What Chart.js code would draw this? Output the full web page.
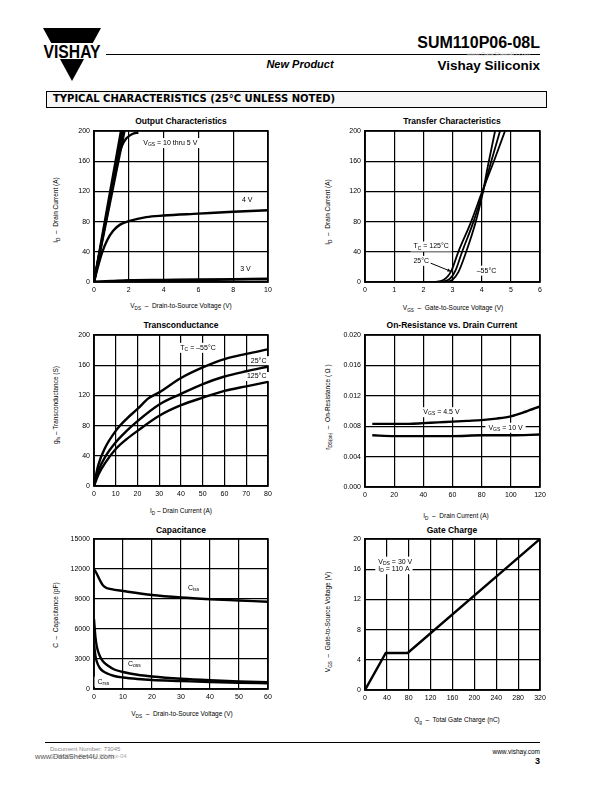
<!DOCTYPE html>
<html>
<head>
<meta charset="utf-8">
<script src="https://cdn.jsdelivr.net/npm/chart.js@4/dist/chart.umd.min.js"></script>
<style>
  body { margin: 0; background: #fff; }
  #page { position: relative; width: 612px; height: 792px; overflow: hidden; font-family: "Liberation Sans", Arial, sans-serif; color: #000; }
  .abs { position: absolute; white-space: nowrap; }
  canvas { position: absolute; }
  .ttl { position: absolute; white-space: nowrap; font: bold 8.5px "Liberation Sans Narrow", "Liberation Sans", sans-serif; transform: translate(-50%, -50%); }
  .xt { position: absolute; white-space: nowrap; font-size: 6.5px; transform: translate(-50%, -50%); }
  .yt { position: absolute; white-space: nowrap; font-size: 6.5px; transform: translate(-50%, -50%) rotate(-90deg); }
  sub { font-size: 72%; vertical-align: baseline; position: relative; top: 0.35em; line-height: 0; }
</style>
</head>
<body>
<div id="page">
  <svg class="abs" style="left:43px;top:28px" width="58" height="54">
    <polygon points="0,0 58,0 29,53" fill="#000"/>
    <rect x="0" y="15" width="58" height="16" fill="#fff"/>
    <text x="29" y="29.5" text-anchor="middle" font-family="Liberation Sans, Arial" font-weight="bold" font-size="18" textLength="57" lengthAdjust="spacingAndGlyphs">VISHAY</text>
  </svg>
  <div class="abs" style="right:72px;top:34px;font:bold 16px 'Liberation Sans Narrow','Liberation Sans',sans-serif">SUM110P06-08L</div>
  <div class="abs" style="left:106px;top:54px;width:434px;height:1px;background:#000"></div>
  <div class="abs" style="left:300px;top:64px;transform:translate(-50%,-50%);font:italic bold 11px 'Liberation Sans',sans-serif">New Product</div>
  <div class="abs" style="right:82px;top:51px;font-size:6px;color:#d8d8d8">www.DataSheet4U.com</div>
  <div class="abs" style="right:72px;top:58px;font:bold 13.5px 'Liberation Sans Narrow','Liberation Sans',sans-serif">Vishay Siliconix</div>
  <div class="abs" style="left:46px;top:91px;width:499px;height:15px;border:1px solid #000;background:#f6f6f6"></div>
  <div class="abs" style="left:53px;top:92.5px;font:bold 10px 'DejaVu Sans',sans-serif">TYPICAL CHARACTERISTICS (25°C UNLESS NOTED)</div>

  <div class="ttl" style="left:181px;top:121px">Output Characteristics</div>
  <div class="ttl" style="left:452px;top:121px">Transfer Characteristics</div>
  <div class="ttl" style="left:181px;top:325px">Transconductance</div>
  <div class="ttl" style="left:452px;top:325px">On-Resistance vs. Drain Current</div>
  <div class="ttl" style="left:181px;top:530px">Capacitance</div>
  <div class="ttl" style="left:452px;top:530px">Gate Charge</div>

  <div class="xt" style="left:181px;top:305px">V<sub>DS</sub> &nbsp;–&nbsp; Drain-to-Source Voltage (V)</div>
  <div class="xt" style="left:453px;top:307px">V<sub>GS</sub> &nbsp;–&nbsp; Gate-to-Source Voltage (V)</div>
  <div class="xt" style="left:181px;top:510px">I<sub>D</sub> – Drain Current (A)</div>
  <div class="xt" style="left:456px;top:515px">I<sub>D</sub> &nbsp;–&nbsp; Drain Current (A)</div>
  <div class="xt" style="left:182px;top:713px">V<sub>DS</sub> &nbsp;–&nbsp; Drain-to-Source Voltage (V)</div>
  <div class="xt" style="left:457px;top:719px">Q<sub>g</sub> &nbsp;–&nbsp; Total Gate Charge (nC)</div>

  <div class="yt" style="left:55px;top:210px">I<sub>D</sub> &nbsp;–&nbsp; Drain Current (A)</div>
  <div class="yt" style="left:327px;top:212px">I<sub>D</sub> &nbsp;–&nbsp; Drain Current (A)</div>
  <div class="yt" style="left:55px;top:405px">g<sub>fs</sub> – Transconductance (S)</div>
  <div class="yt" style="left:327px;top:407px">r<sub>DS(on)</sub> &nbsp;–&nbsp; On-Resistance ( Ω )</div>
  <div class="yt" style="left:55px;top:615px">C &nbsp;–&nbsp; Capacitance (pF)</div>
  <div class="yt" style="left:327px;top:622px">V<sub>GS</sub> &nbsp;–&nbsp; Gate-to-Source Voltage (V)</div>

  <canvas id="c1" width="228" height="181" style="left:54px;top:121px"></canvas>
  <canvas id="c2" width="229" height="181" style="left:325px;top:121px"></canvas>
  <canvas id="c3" width="228" height="181" style="left:54px;top:325px"></canvas>
  <canvas id="c4" width="229" height="182" style="left:325px;top:325px"></canvas>
  <canvas id="c5" width="228" height="180" style="left:54px;top:529px"></canvas>
  <canvas id="c6" width="229" height="181" style="left:325px;top:529px"></canvas>

  <div class="abs" style="left:45px;top:742px;width:495px;height:1px;background:#000"></div>
  <div class="abs" style="left:50px;top:746px;font-size:6px;color:#888">Document Number: 73045</div>
  <div class="abs" style="left:50px;top:753px;font-size:6px;color:#aaa">S-40000—Rev. A, 00-Xxx-04</div>
  <div class="abs" style="left:35px;top:752px;font-size:7.5px;color:#555">www.DataSheet4U.com</div>
  <div class="abs" style="right:72px;top:748px;font-size:6.5px">www.vishay.com</div>
  <div class="abs" style="right:72px;top:756px;font:bold 9px 'Liberation Sans',sans-serif">3</div>
</div>

<script>
// output characteristics: VDS (V) vs ID (A)
const outVgs10X = [0, 1.55];
const outVgs10Y = [0, 200];
const outVgs8X = [0, 1.65];
const outVgs8Y = [0, 200];
const outVgs6X = [0, 1.75];
const outVgs6Y = [0, 200];
const outVgs5X = [0, 0.5, 1.0, 1.35, 1.6, 1.85, 2.2, 2.55];
const outVgs5Y = [0, 60, 120, 162, 180, 190, 196, 198];
const outVgs4X = [0, 0.2, 0.45, 0.75, 1.1, 1.5, 2, 3, 4, 6, 8, 10];
const outVgs4Y = [0, 18, 38, 55, 68, 76, 80.5, 86, 88, 90.5, 93, 95];
const outVgs3X = [0, 1, 2, 4, 6, 8, 10];
const outVgs3Y = [0, 1, 2, 2.5, 3, 3.5, 4];

// transfer characteristics: VGS (V) vs ID (A)
const trM55X = [0, 2.7, 3.0, 3.2, 3.47, 3.8, 4.02, 4.22, 4.46];
const trM55Y = [0, 0, 3, 13, 40, 80, 115, 155, 200];
const tr25X = [0, 2.5, 2.9, 3.1, 3.33, 3.72, 4.03, 4.33, 4.63];
const tr25Y = [0, 0, 4, 15, 40, 80, 118, 160, 200];
const tr125X = [0, 2.3, 2.7, 2.95, 3.2, 3.64, 4.02, 4.42, 4.8];
const tr125Y = [0, 0, 3, 14, 40, 80, 120, 160, 200];

// transconductance: ID (A) vs gfs (S)
const gfsM55X = [0, 2, 5, 10, 15, 20, 25, 30, 40, 50, 60, 70, 80];
const gfsM55Y = [2, 28, 50, 73, 89, 102, 116, 124, 143, 157, 168, 175, 181];
const gfs25X = [0, 2, 5, 10, 15, 20, 30, 40, 50, 60, 70, 80];
const gfs25Y = [1, 20, 38, 58, 73, 86, 108, 122, 135, 145, 152, 158];
const gfs125X = [0, 2, 5, 10, 15, 20, 30, 40, 50, 60, 70, 80];
const gfs125Y = [0, 15, 30, 49, 62, 73, 93, 107, 117, 126, 132, 138];

// on-resistance: ID (A) vs rDS(on) (ohm)
const rds45X = [5, 10, 20, 30, 40, 50, 60, 70, 80, 90, 100, 110, 120];
const rds45Y = [0.0083, 0.0083, 0.0083, 0.0083, 0.0084, 0.0085, 0.0086, 0.0087, 0.0088, 0.0090, 0.0093, 0.0099, 0.0106];
const rds10X = [5, 20, 40, 60, 80, 100, 120];
const rds10Y = [0.0068, 0.0067, 0.0067, 0.0067, 0.0068, 0.0068, 0.0069];

// capacitance: VDS (V) vs C (pF)
const cissX = [0, 1, 2, 3, 4, 6, 10, 20, 30, 40, 50, 60];
const cissY = [12000, 11500, 10900, 10400, 10150, 9980, 9800, 9400, 9150, 8980, 8850, 8720];
const cossX = [0, 0.5, 1, 2, 3, 5, 7, 10, 15, 20, 30, 40, 50, 60];
const cossY = [7000, 5200, 4200, 3300, 2800, 2300, 1950, 1700, 1420, 1250, 1020, 870, 760, 680];
const crssX = [0, 0.5, 1, 2, 3, 5, 7, 10, 15, 20, 30, 40, 50, 60];
const crssY = [4500, 3300, 2700, 2100, 1800, 1500, 1300, 1150, 1000, 900, 800, 700, 630, 580];

// gate charge: Qg (nC) vs VGS (V)
const qgX = [0, 38, 78, 320];
const qgY = [0, 4.9, 4.9, 20];

// tick labels
const outXTicks = [0, 2, 4, 6, 8, 10];
const trXTicks = [0, 1, 2, 3, 4, 5, 6];
const currentTicks = [0, 40, 80, 120, 160, 200];
const gfsXTicks = [0, 10, 20, 30, 40, 50, 60, 70, 80];
const gfsYTicks = [0, 40, 80, 120, 160, 200];
const rdsXTicks = [0, 20, 40, 60, 80, 100, 120];
const rdsYTicks = [0, 0.004, 0.008, 0.012, 0.016, 0.020];
const capXTicks = [0, 10, 20, 30, 40, 50, 60];
const capYTicks = [0, 3000, 6000, 9000, 12000, 15000];
const qgXTicks = [0, 40, 80, 120, 160, 200, 240, 280, 320];
const qgYTicks = [0, 4, 8, 12, 16, 20];

function line(xs, ys, w) {
  return {
    data: xs.map((x, i) => ({ x: x, y: ys[i] })),
    borderColor: '#000', borderWidth: w || 2.4, pointRadius: 0, fill: false,
    cubicInterpolationMode: 'monotone'
  };
}

// frame, white label boxes and labels with subscripts
function notesPlugin(items) {
  const big = '7px "Liberation Sans", Arial, sans-serif';
  const small = '5px "Liberation Sans", Arial, sans-serif';
  function place(chart, it) {
    const ctx = chart.ctx;
    let w = 0;
    it.parts.forEach(p => { ctx.font = p[1] ? small : big; w += ctx.measureText(p[0]).width; });
    let x = chart.scales.x.getPixelForValue(it.x);
    const y = chart.scales.y.getPixelForValue(it.y);
    if (it.right) x -= w;
    return { x: x, y: y, w: w };
  }
  return {
    id: 'notes',
    beforeDatasetsDraw(chart) {
      const ctx = chart.ctx, a = chart.chartArea;
      ctx.save();
      ctx.strokeStyle = '#000';
      ctx.lineWidth = 1.6;
      ctx.strokeRect(a.left, a.top, a.right - a.left, a.bottom - a.top);
      ctx.fillStyle = '#fff';
      items.forEach(it => {
        if (!it.bg) return;
        const p = place(chart, it);
        ctx.fillRect(p.x - 3, p.y - (it.bh || 5), p.w + 6, (it.bh || 5) * 2);
      });
      ctx.restore();
    },
    afterDatasetsDraw(chart) {
      const ctx = chart.ctx;
      ctx.save();
      ctx.fillStyle = '#000';
      ctx.textBaseline = 'middle';
      items.forEach(it => {
        const p = place(chart, it);
        let cx = p.x;
        it.parts.forEach(s => {
          ctx.font = s[1] ? small : big;
          ctx.fillText(s[0], cx, p.y + (s[1] ? 1.8 : 0));
          cx += ctx.measureText(s[0]).width;
        });
        if (it.arrow) {
          const x0 = chart.scales.x.getPixelForValue(it.arrow[0]), y0 = chart.scales.y.getPixelForValue(it.arrow[1]);
          const x1 = chart.scales.x.getPixelForValue(it.arrow[2]), y1 = chart.scales.y.getPixelForValue(it.arrow[3]);
          ctx.lineWidth = 1; ctx.strokeStyle = '#000';
          ctx.beginPath(); ctx.moveTo(x0, y0); ctx.lineTo(x1, y1); ctx.stroke();
          const ang = Math.atan2(y1 - y0, x1 - x0);
          ctx.beginPath();
          ctx.moveTo(x1, y1);
          ctx.lineTo(x1 - 4 * Math.cos(ang - 0.4), y1 - 4 * Math.sin(ang - 0.4));
          ctx.lineTo(x1 - 4 * Math.cos(ang + 0.4), y1 - 4 * Math.sin(ang + 0.4));
          ctx.closePath(); ctx.fill();
        }
      });
      ctx.restore();
    }
  };
}

function axis(ticks, fmt, isX) {
  return {
    type: 'linear',
    min: ticks[0], max: ticks[ticks.length - 1],
    afterBuildTicks: s => { s.ticks = ticks.map(v => ({ value: v })); },
    afterFit: s => { if (isX) s.height = 20; else s.width = 40; },
    grid: { color: '#000', lineWidth: 1.2, drawTicks: false },
    border: { display: true, color: '#000', width: 1.6 },
    ticks: { color: '#000', padding: 4, font: { family: '"Liberation Sans", Arial, sans-serif', size: 7 }, callback: fmt || (v => String(v)) }
  };
}

function makeChart(id, sets, xTicks, yTicks, yFmt, notes) {
  return new Chart(document.getElementById(id), {
    type: 'line',
    data: { datasets: sets },
    options: {
      responsive: false, animation: false, events: [],
      layout: { padding: { left: 0, top: 10, right: 14, bottom: 0 } },
      plugins: { legend: { display: false }, tooltip: { enabled: false } },
      scales: { x: axis(xTicks, null, true), y: axis(yTicks, yFmt, false) }
    },
    plugins: [notesPlugin(notes)]
  });
}

makeChart('c1', [
  line(outVgs10X, outVgs10Y), line(outVgs8X, outVgs8Y), line(outVgs6X, outVgs6Y),
  line(outVgs5X, outVgs5Y), line(outVgs4X, outVgs4Y), line(outVgs3X, outVgs3Y, 2.8)
], outXTicks, currentTicks, null, [
  { x: 2.83, y: 184, bg: true, parts: [['V', 0], ['GS', 1], [' = 10 thru 5 V', 0]] },
  { x: 8.5, y: 108, parts: [['4 V', 0]] },
  { x: 8.4, y: 17, parts: [['3 V', 0]] }
]);

makeChart('c2', [
  line(trM55X, trM55Y, 1.8), line(tr25X, tr25Y, 1.8), line(tr125X, tr125Y, 1.8)
], trXTicks, currentTicks, null, [
  { x: 1.66, y: 47, bg: true, parts: [['T', 0], ['C', 1], [' = 125°C', 0]] },
  { x: 1.66, y: 28, bg: true, parts: [['25°C', 0]], arrow: [2.25, 25, 2.95, 14] },
  { x: 3.83, y: 15, bg: true, parts: [['–55°C', 0]] }
]);

makeChart('c3', [
  line(gfsM55X, gfsM55Y), line(gfs25X, gfs25Y), line(gfs125X, gfs125Y)
], gfsXTicks, gfsYTicks, null, [
  { x: 39.7, y: 183, bg: true, parts: [['T', 0], ['C', 1], [' = –55°C', 0]] },
  { x: 79.3, y: 166, right: true, bg: true, bh: 4.5, parts: [['25°C', 0]] },
  { x: 79.3, y: 145, right: true, bg: true, bh: 4.5, parts: [['125°C', 0]] }
]);

makeChart('c4', [
  line(rds45X, rds45Y), line(rds10X, rds10Y)
], rdsXTicks, rdsYTicks, v => v.toFixed(3), [
  { x: 40, y: 0.00984, bg: true, parts: [['V', 0], ['GS', 1], [' = 4.5 V', 0]] },
  { x: 84.6, y: 0.0078, bg: true, parts: [['V', 0], ['GS', 1], [' = 10 V', 0]] }
]);

makeChart('c5', [
  line(cissX, cissY), line(cossX, cossY), line(crssX, crssY)
], capXTicks, capYTicks, null, [
  { x: 32.4, y: 10070, parts: [['C', 0], ['iss', 1]] },
  { x: 11.7, y: 2500, parts: [['C', 0], ['oss', 1]] },
  { x: 1.2, y: 730, bg: true, parts: [['C', 0], ['rss', 1]] }
]);

makeChart('c6', [
  { ...line(qgX, qgY), cubicInterpolationMode: 'default', tension: 0 }
], qgXTicks, qgYTicks, null, [
  { x: 24.3, y: 17, bg: true, bh: 5, parts: [['V', 0], ['DS', 1], [' = 30 V', 0]] },
  { x: 24.3, y: 16, bg: true, bh: 5, parts: [['I', 0], ['D', 1], [' = 110 A', 0]] }
]);
</script>
</body>
</html>
